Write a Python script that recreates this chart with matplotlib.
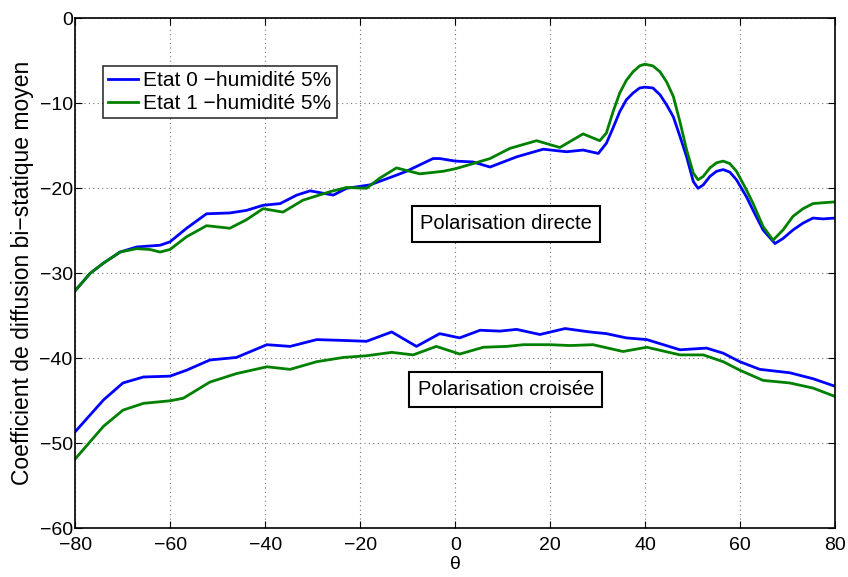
import matplotlib
matplotlib.use('Agg')
import matplotlib.pyplot as plt

plt.rcParams['font.family'] = ['Liberation Sans', 'DejaVu Sans']
plt.rcParams['font.size'] = 14

# Polarisation directe, etat 0 (bleu)
x_dir0 = [-80, -76.9, -74.1, -70.6, -67.1, -62.2, -60.1, -56.6, -52.4, -47.5, -44, -40.5, -36.9, -33.4, -30.6,
          -25.7, -22.9, -18, -13.1, -10.3, -4.7, -3.3, 0, 3.7, 7.3, 12.9, 18.5, 23.4, 26.9, 30.1,
          31.8, 33.2, 34.6, 36, 37.4, 38.8, 39.9, 41.6, 43.1, 44.5, 45.9, 47.3, 48.7, 50.1, 51.1, 52.2,
          53.6, 55, 56.4, 57.8, 59.2, 61.3, 62.7, 64.8, 67.3, 69, 71.1, 73.2, 75.3, 77.4, 80]
y_dir0 = [-32.0, -30.0, -28.8, -27.5, -26.9, -26.7, -26.3, -24.7, -23.0, -22.9, -22.6, -22.0, -21.8, -20.8, -20.3,
          -20.8, -20.0, -19.6, -18.6, -18.0, -16.5, -16.5, -16.8, -16.9, -17.5, -16.3, -15.4, -15.7, -15.5, -15.9,
          -14.7, -12.9, -11.0, -9.6, -8.8, -8.2, -8.1, -8.2, -9.0, -10.2, -11.6, -13.9, -16.3, -19.2, -20.0, -19.6,
          -18.6, -18.0, -17.8, -18.1, -19.0, -21.0, -22.6, -24.9, -26.5, -25.9, -24.9, -24.1, -23.5, -23.6, -23.5]

# Polarisation directe, etat 1 (vert)
x_dir1 = [-80, -76.9, -74.1, -70.6, -67.1, -64.3, -62.2, -60.1, -56.6, -52.4, -47.5, -44, -40.5, -36.3, -32.1,
          -26.4, -22.9, -18.7, -15.9, -12.4, -7.5, -2.6, 0, 3.7, 7.3, 11.5, 17.1, 22, 26.9, 30.4,
          31.8, 33.2, 34.6, 36, 37.4, 38.8, 39.9, 41.6, 43.1, 44.5, 45.9, 47.3, 48.7, 50.1, 51.1, 52.2,
          53.6, 55, 56.4, 57.8, 59.2, 61.3, 62.7, 64.8, 66.9, 69, 71.1, 73.2, 75.3, 77.4, 80]
y_dir1 = [-32.0, -30.0, -28.8, -27.5, -27.1, -27.2, -27.5, -27.2, -25.7, -24.4, -24.7, -23.7, -22.4, -22.8, -21.4,
          -20.4, -19.9, -20.0, -18.8, -17.6, -18.3, -18.0, -17.7, -17.1, -16.5, -15.3, -14.4, -15.2, -13.6, -14.4,
          -13.5, -11.0, -8.8, -7.3, -6.3, -5.6, -5.4, -5.6, -6.3, -7.5, -9.2, -12.2, -15.5, -18.2, -19.0, -18.6,
          -17.6, -17.0, -16.8, -17.1, -18.0, -20.2, -21.8, -24.5, -26.1, -24.9, -23.3, -22.4, -21.8, -21.7, -21.6]

# Polarisation croisee, etat 0 (bleu)
x_cr0 = [-80, -74.1, -70, -65.7, -60.1, -56.6, -51.7, -46.1, -39.7, -34.8, -29.2, -23.6, -18.7,
         -13.4, -8.2, -3.3, 0.9, 5.2, 9.4, 12.9, 17.8, 23.1, 28.3, 31.8, 36, 40.3, 47.3, 52.9,
         56.4, 59.9, 64.1, 70.4, 75.3, 80]
y_cr0 = [-48.6, -44.9, -42.9, -42.2, -42.1, -41.4, -40.2, -39.9, -38.4, -38.6, -37.8, -37.9, -38.0,
         -36.9, -38.6, -37.1, -37.6, -36.7, -36.8, -36.6, -37.2, -36.5, -36.9, -37.1, -37.6, -37.8, -39.0, -38.8,
         -39.4, -40.4, -41.3, -41.7, -42.4, -43.3]

# Polarisation croisee, etat 1 (vert)
x_cr1 = [-80, -74.1, -70, -65.7, -60.1, -57.3, -51.7, -46.1, -39.7, -34.8, -29.2, -23.6, -18.7,
         -13.4, -8.9, -4.0, 0.9, 5.9, 10.8, 14.3, 19.9, 24.1, 29, 35.3, 40.3, 47.3, 52.2,
         56.4, 59.9, 64.8, 70.4, 75.3, 80]
y_cr1 = [-51.8, -48.0, -46.1, -45.3, -45.0, -44.7, -42.8, -41.8, -41.0, -41.3, -40.4, -39.9, -39.7,
         -39.3, -39.6, -38.6, -39.5, -38.7, -38.6, -38.4, -38.4, -38.5, -38.4, -39.2, -38.7, -39.6, -39.6,
         -40.4, -41.4, -42.6, -42.9, -43.5, -44.5]

BLUE = '#0000ff'
GREEN = '#008000'

fig = plt.figure(figsize=(8.48, 5.77), dpi=100)
ax = fig.add_axes([0.089, 0.0844, 0.896, 0.8839])

ax.plot(x_dir0, y_dir0, color=BLUE, lw=2, label='Etat 0 \u2212humidit\u00e9 5%')
ax.plot(x_dir1, y_dir1, color=GREEN, lw=2, label='Etat 1 \u2212humidit\u00e9 5%')
ax.plot(x_cr0, y_cr0, color=BLUE, lw=2)
ax.plot(x_cr1, y_cr1, color=GREEN, lw=2)

ax.set_xlim(-80, 80)
ax.set_ylim(-60, 0)
ax.set_xticks(range(-80, 81, 20))
ax.set_yticks(range(-60, 1, 10))
ax.grid(True, color='#777777', linestyle=(0, (1, 3)), linewidth=0.8)
ax.tick_params(direction='in', top=True, right=True, length=5, width=0.8, labelsize=14, pad=2)
ax.tick_params(axis='x', pad=6)
for s in ax.spines.values():
    s.set_linewidth(1.2)

ax.set_xlabel('\u03b8', fontsize=14, labelpad=2)
ax.set_ylabel('Coefficient de diffusion bi\u2212statique moyen', fontsize=16.5, labelpad=4)

leg = ax.legend(loc='upper left', bbox_to_anchor=(0.036, 0.907), fontsize=15, frameon=True,
                fancybox=False, edgecolor='black', handlelength=1.45, handletextpad=0.25,
                borderpad=0.25, labelspacing=0.2, borderaxespad=0)
leg.get_frame().set_linewidth(1.2)

box = dict(boxstyle='square,pad=0.4', facecolor='white', edgecolor='black', linewidth=1.5)
ax.text(10.6, -24.2, 'Polarisation directe', ha='center', va='center', fontsize=14.5, bbox=box)
ax.text(10.6, -43.7, 'Polarisation crois\u00e9e', ha='center', va='center', fontsize=14.5, bbox=box)

fig.savefig('out.png', dpi=100)
